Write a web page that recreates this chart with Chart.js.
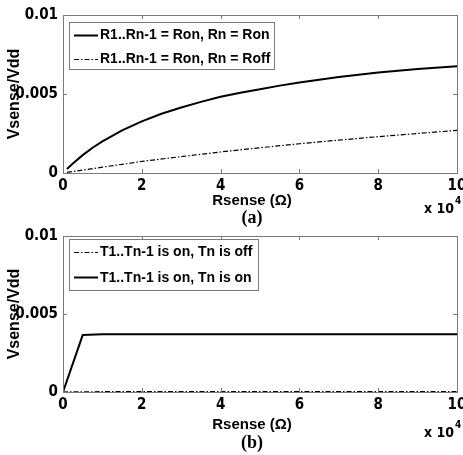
<!DOCTYPE html>
<html><head><meta charset="utf-8">
<script src="https://cdn.jsdelivr.net/npm/chart.js@4/dist/chart.umd.min.js"></script>
<style>
html,body{margin:0;padding:0;background:#fff;}
#wrap{position:relative;width:463px;height:455px;overflow:hidden;}
.c{position:absolute;left:0;width:463px;}
</style></head><body>
<div id="wrap">
<div class="c" style="top:0;height:228px"><canvas id="ca"></canvas></div>
<div class="c" style="top:228px;height:227px"><canvas id="cb"></canvas></div>
</div>
<script>
// ---- data (x in units of 10^4 ohm) ----
const xTickLabels = ['0', '2', '4', '6', '8', '10'];
const yTickLabels = ['0', '0.005', '0.01'];

const rsenseA = [0.1, 0.25, 0.5, 0.75, 1, 1.5, 2, 2.5, 3, 3.5, 4, 4.5, 5, 5.5, 6, 7, 8, 9, 10];
const vOnOnA  = [0.00025, 0.0006, 0.00113, 0.0016, 0.002, 0.0027, 0.00327, 0.00375, 0.00415, 0.0045, 0.00482, 0.00508, 0.0053, 0.00553, 0.00573, 0.00607, 0.00636, 0.00658, 0.00675];
const rsenseA2 = [0.1, 0.5, 1, 2, 3, 4, 5, 6, 7, 8, 9, 10];
const vOnOffA = [0.00004, 0.00018, 0.00037, 0.00073, 0.00104, 0.00133, 0.0016, 0.00185, 0.00208, 0.0023, 0.0025, 0.0027];

const rsenseB = [0, 0.5, 1, 2, 3, 4, 5, 6, 7, 8, 9, 10];
const vTnOffB = [0, 0.00001, 0.00002, 0.00003, 0.00003, 0.00003, 0.00003, 0.00003, 0.00003, 0.00003, 0.00003, 0.00003];
const vTnOnB  = [0, 0.00365, 0.0037, 0.0037, 0.0037, 0.0037, 0.0037, 0.0037, 0.0037, 0.0037, 0.0037, 0.0037];

const legendA = ['R1..Rn-1 = Ron, Rn = Ron', 'R1..Rn-1 = Ron, Rn = Roff'];
const legendB = ['T1..Tn-1 is on, Tn is off', 'T1..Tn-1 is on, Tn is on'];
const xTitle = 'Rsense (Ω)';
const yTitle = 'Vsense/Vdd';

const DASHDOT = [5, 2, 1.5, 2];
const SANS = '"Liberation Sans", Arial, sans-serif';
const NARROW = '"Liberation Sans Narrow", "DejaVu Sans Condensed", "Liberation Sans", sans-serif';
const FRAME = '#7a7a7a';

function pts(xs, ys) { return xs.map((x, i) => ({x: x, y: ys[i]})); }

const framePlugin = {
  id: 'frame',
  afterDatasetsDraw(chart, args, opts) {
    const {ctx, chartArea: a, scales: {x, y}} = chart;
    ctx.save();
    ctx.strokeStyle = FRAME;
    ctx.lineWidth = 1;
    ctx.setLineDash([]);
    ctx.strokeRect(Math.round(a.left) + 0.5, Math.round(a.top) + 0.5, Math.round(a.right - a.left), Math.round(a.bottom - a.top));
    const tl = 4;
    ctx.beginPath();
    x.ticks.forEach(t => {
      const px = Math.round(x.getPixelForValue(t.value)) + 0.5;
      ctx.moveTo(px, a.bottom); ctx.lineTo(px, a.bottom - tl);
      ctx.moveTo(px, a.top); ctx.lineTo(px, a.top + tl);
    });
    y.ticks.forEach(t => {
      const py = Math.round(y.getPixelForValue(t.value)) + 0.5;
      ctx.moveTo(a.left, py); ctx.lineTo(a.left + tl, py);
      ctx.moveTo(a.right, py); ctx.lineTo(a.right - tl, py);
    });
    ctx.stroke();

    // legend box
    const L = opts.legend;
    ctx.fillStyle = '#fff';
    ctx.fillRect(L.x, L.y, L.w, L.h);
    ctx.strokeStyle = FRAME;
    ctx.strokeRect(L.x + 0.5, L.y + 0.5, L.w, L.h);
    ctx.font = 'bold 14px ' + SANS;
    ctx.textBaseline = 'middle';
    ctx.textAlign = 'left';
    ctx.fillStyle = '#000';
    ctx.strokeStyle = '#000';
    chart.data.datasets.forEach((ds, i) => {
      const ry = L.y + L.row0 + i * L.rowGap;
      ctx.beginPath();
      ctx.lineWidth = ds.borderWidth;
      ctx.setLineDash(ds.borderDash || []);
      ctx.moveTo(L.x + 5, Math.round(ry) + 0.5);
      ctx.lineTo(L.x + 29, Math.round(ry) + 0.5);
      ctx.stroke();
      ctx.fillText(ds.label, L.x + 31, ry + 1);
    });
    ctx.setLineDash([]);

    // x axis title
    ctx.font = 'bold 15px ' + SANS;
    ctx.textAlign = 'center';
    ctx.textBaseline = 'middle';
    ctx.fillText(xTitle, opts.titleX, opts.titleY);

    // exponent and panel label
    ctx.font = 'bold 14px ' + NARROW;
    ctx.textAlign = 'right';
    ctx.textBaseline = 'alphabetic';
    ctx.fillText('x 10', opts.expX, opts.expY);
    ctx.font = 'bold 10px ' + NARROW;
    ctx.textAlign = 'left';
    ctx.fillText('4', opts.expX + 1, opts.expY - 9);
    ctx.font = 'bold 18px "Liberation Serif", "Times New Roman", serif';
    ctx.textAlign = 'center';
    ctx.textBaseline = 'middle';
    ctx.fillText(opts.panel, opts.panelX, opts.panelY);
    ctx.restore();
  }
};

function makeChart(id, datasets, cfg) {
  return new Chart(document.getElementById(id), {
    type: 'scatter',
    data: {datasets: datasets},
    options: {
      responsive: true,
      maintainAspectRatio: false,
      animation: false,
      layout: {padding: {top: cfg.padTop, right: 6, left: 0, bottom: 0}},
      plugins: {
        legend: {display: false},
        tooltip: {enabled: false},
        frame: cfg.frame
      },
      elements: {point: {radius: 0}, line: {tension: 0}},
      scales: {
        x: {
          type: 'linear', min: 0, max: 10,
          ticks: {stepSize: 2, padding: 4, color: '#000', font: {family: NARROW, size: 15, weight: 'bold'},
                  callback: (v) => xTickLabels[Math.round(v / 2)]},
          grid: {display: false, drawTicks: false},
          border: {display: false},
          afterFit: (s) => { s.height = cfg.xAxisH; s.paddingLeft = 0; s.paddingRight = 0; }
        },
        y: {
          type: 'linear', min: 0, max: 0.01,
          ticks: {stepSize: 0.005, padding: 5, color: '#000', font: {family: NARROW, size: 15, weight: 'bold'},
                  callback: (v) => yTickLabels[Math.round(v / 0.005)]},
          grid: {display: false, drawTicks: false},
          border: {display: false},
          title: {display: true, text: yTitle, color: '#000', font: {family: SANS, size: 16, weight: 'bold'},
                  padding: {top: 5, bottom: 0}},
          afterFit: (s) => { s.width = 63; s.paddingTop = 0; s.paddingBottom = 0; }
        }
      }
    },
    plugins: [framePlugin]
  });
}

makeChart('ca', [
  {label: legendA[0], data: pts(rsenseA, vOnOnA), showLine: true, borderColor: '#000', borderWidth: 2, fill: false},
  {label: legendA[1], data: pts(rsenseA2, vOnOffA), showLine: true, borderColor: '#000', borderWidth: 1.2, borderDash: DASHDOT, fill: false}
], {
  padTop: 15, xAxisH: 55,
  frame: {legend: {x: 69, y: 22, w: 205, h: 47, row0: 12.5, rowGap: 24},
          titleX: 252, titleY: 201, expX: 454, expY: 213, panel: '(a)', panelX: 252, panelY: 218}
});

makeChart('cb', [
  {label: legendB[0], data: pts(rsenseB, vTnOffB), showLine: true, borderColor: '#000', borderWidth: 1.2, borderDash: DASHDOT, fill: false},
  {label: legendB[1], data: pts(rsenseB, vTnOnB), showLine: true, borderColor: '#000', borderWidth: 2, fill: false}
], {
  padTop: 8, xAxisH: 63,
  frame: {legend: {x: 69, y: 11, w: 189, h: 51, row0: 12.5, rowGap: 25.5},
          titleX: 252, titleY: 197, expX: 454, expY: 209, panel: '(b)', panelX: 252, panelY: 215}
});
</script>
</body></html>
